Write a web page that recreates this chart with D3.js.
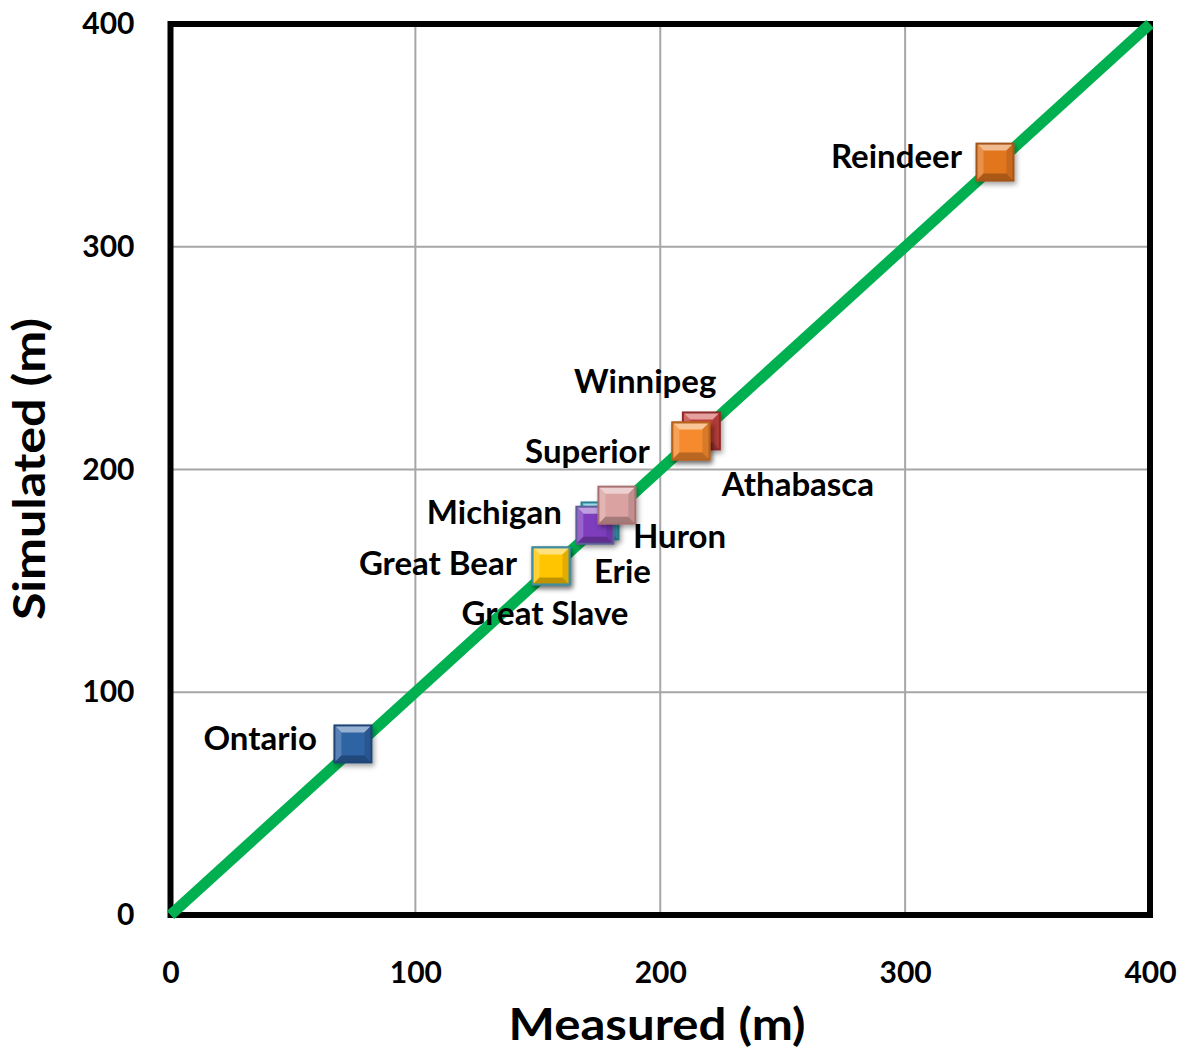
<!DOCTYPE html>
<html>
<head>
<meta charset="utf-8">
<script src="https://cdn.jsdelivr.net/npm/d3@7"></script>
<style>
  html, body { margin: 0; padding: 0; background: #fff; }
  svg { display: block; font-family: Lato, "Open Sans", sans-serif; font-weight: 700; }
</style>
</head>
<body>
<div id="chart"></div>
<script>
// lake depths, measured vs simulated (m)
const lakes = ['Reindeer', 'Winnipeg', 'Superior', 'Athabasca', 'Erie', 'Michigan', 'Huron', 'Great Bear', 'Great Slave', 'Ontario'];
const measured = [336.7, 216.8, 212.5, 212.5, 175.4, 173.3, 182.3, 155.4, 155.4, 74.5];
const simulated = [338.0, 217.3, 212.8, 212.8, 176.9, 175.0, 184.0, 156.7, 156.7, 76.8];
const fills = ['#e2761f', '#c8423f', '#f08a30', '#f58b2f', '#3fb4d0', '#7d3cbd', '#dba2a2', '#3a93a8', '#ffc500', '#2f63a4'];
const edges = ['#a3531a', '#8f2c2a', '#b5601e', '#b8641f', '#2b7f95', '#5d5d99', '#a87070', '#2a6f80', '#3f8ea0', '#1f4575'];
const xTicks = [0, 100, 200, 300, 400];
const yTicks = [0, 100, 200, 300, 400];

// where each label sits relative to its marker: [dx, dy, anchor]
const labelPos = {
  'Reindeer': [-33, 6, 'end'],
  'Winnipeg': [15, -38, 'end'],
  'Superior': [-41, 22, 'end'],
  'Athabasca': [31, 55, 'start'],
  'Erie': [-6, 62, 'start'],
  'Michigan': [-33, -1, 'end'],
  'Huron': [16, 43, 'start'],
  'Great Bear': [-34, 9, 'end'],
  'Great Slave': [-6, 59, 'middle'],
  'Ontario': [-36, 6, 'end']
};

const W = 1189, H = 1053;
const margin = { top: 24, right: 39, bottom: 138, left: 170.5 };
const width = W - margin.left - margin.right;
const height = H - margin.top - margin.bottom;
const size = 37;

const svg = d3.select('#chart').append('svg')
    .attr('width', W)
    .attr('height', H);

const defs = svg.append('defs');
const shadow = defs.append('filter').attr('id', 'shadow')
    .attr('x', '-30%').attr('y', '-30%').attr('width', '170%').attr('height', '170%');
shadow.append('feDropShadow')
    .attr('dx', 2).attr('dy', 3).attr('stdDeviation', 2.5)
    .attr('flood-color', '#000').attr('flood-opacity', 0.35);

const g = svg.append('g').attr('transform', `translate(${margin.left},${margin.top})`);

const x = d3.scaleLinear().domain([0, 400]).range([0, width]);
const y = d3.scaleLinear().domain([0, 400]).range([height, 0]);

// grid
g.append('g').selectAll('line').data(xTicks.slice(1, -1)).join('line')
    .attr('x1', (d) => x(d)).attr('x2', (d) => x(d))
    .attr('y1', 0).attr('y2', height)
    .attr('stroke', '#a6a6a6').attr('stroke-width', 2);
g.append('g').selectAll('line').data(yTicks.slice(1, -1)).join('line')
    .attr('y1', (d) => y(d)).attr('y2', (d) => y(d))
    .attr('x1', 0).attr('x2', width)
    .attr('stroke', '#a6a6a6').attr('stroke-width', 2);

// axes (labels only)
const xAxis = g.append('g')
    .attr('transform', `translate(0,${height})`)
    .call(d3.axisBottom(x).tickValues(xTicks).tickSize(0).tickPadding(47).tickFormat(d3.format('d')));
const yAxis = g.append('g')
    .call(d3.axisLeft(y).tickValues(yTicks).tickSize(0).tickPadding(36).tickFormat(d3.format('d')));
[xAxis, yAxis].forEach((a) => {
  a.select('.domain').remove();
  a.selectAll('text')
      .attr('fill', '#000')
      .style('font-family', 'Lato, "Open Sans", sans-serif')
      .style('font-weight', 700)
      .style('font-size', '30px');
});

// frame
g.append('rect')
    .attr('x', 0).attr('y', 0)
    .attr('width', width).attr('height', height)
    .attr('fill', 'none')
    .attr('stroke', '#000')
    .attr('stroke-width', 6);

// 1:1 line
g.append('path')
    .datum([0, 400])
    .attr('d', d3.line().x((d) => x(d)).y((d) => y(d)))
    .attr('stroke', '#00b050')
    .attr('stroke-width', 11)
    .attr('fill', 'none');

// bevelled square markers
const pts = lakes.map((name, i) => ({ name, mx: measured[i], sy: simulated[i], fill: fills[i], edge: edges[i] }));
const h = size / 2, b = 7;
const marker = g.append('g').selectAll('g').data(pts).join('g')
    .attr('transform', (d) => `translate(${x(d.mx)},${y(d.sy)})`)
    .attr('filter', 'url(#shadow)');

marker.append('rect')
    .attr('x', -h).attr('y', -h).attr('width', size).attr('height', size)
    .attr('fill', (d) => d.fill);
const faces = [
  { p: [[-h, -h], [h, -h], [h - b, -h + b], [-h + b, -h + b]], k: 0.5 },
  { p: [[-h, -h], [-h + b, -h + b], [-h + b, h - b], [-h, h]], k: 0.2 },
  { p: [[h, -h], [h, h], [h - b, h - b], [h - b, -h + b]], k: -0.12 },
  { p: [[-h, h], [-h + b, h - b], [h - b, h - b], [h, h]], k: -0.25 }
];
faces.forEach((f) => {
  marker.append('path')
      .attr('d', 'M' + f.p.map((q) => q.join(',')).join('L') + 'Z')
      .attr('fill', (d) => f.k > 0 ? d3.interpolateRgb(d.fill, '#fff')(f.k) : d3.interpolateRgb(d.fill, '#000')(-f.k));
});
marker.append('rect')
    .attr('x', -h).attr('y', -h).attr('width', size).attr('height', size)
    .attr('fill', 'none')
    .attr('stroke', (d) => d.edge)
    .attr('stroke-width', 2);

// labels
g.append('g').selectAll('text').data(pts).join('text')
    .attr('x', (d) => x(d.mx) + labelPos[d.name][0])
    .attr('y', (d) => y(d.sy) + labelPos[d.name][1])
    .attr('text-anchor', (d) => labelPos[d.name][2])
    .style('font-size', '33px')
    .attr('fill', '#000')
    .text((d) => d.name);

// axis titles
svg.append('text')
    .attr('x', 657).attr('y', 1040)
    .attr('text-anchor', 'middle')
    .attr('textLength', 297).attr('lengthAdjust', 'spacingAndGlyphs')
    .style('font-size', '43px')
    .text('Measured (m)');
svg.append('text')
    .attr('transform', 'translate(45,469) rotate(-90)')
    .attr('text-anchor', 'middle')
    .attr('textLength', 302).attr('lengthAdjust', 'spacingAndGlyphs')
    .style('font-size', '43px')
    .text('Simulated (m)');
</script>
</body>
</html>
